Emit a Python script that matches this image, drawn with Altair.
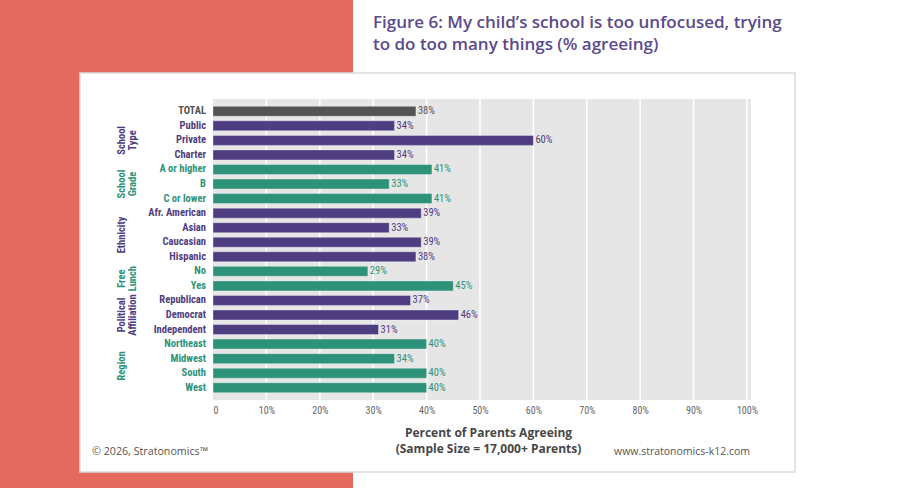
import altair as alt
import pandas as pd

# ---------------- data ----------------
categories = ["TOTAL", "Public", "Private", "Charter", "A or higher", "B", "C or lower",
              "Afr. American", "Asian", "Caucasian", "Hispanic", "No", "Yes",
              "Republican", "Democrat", "Independent", "Northeast", "Midwest", "South", "West"]
values = [38, 34, 60, 34, 41, 33, 41, 39, 33, 39, 38, 29, 45, 37, 46, 31, 40, 34, 40, 40]

group_lines = [["School", "Type"], ["School", "Grade"], ["Ethnicity"], ["Free", "Lunch"],
               ["Political", "Affiliation"], ["Region"]]
group_sizes = [3, 3, 4, 2, 3, 4]

tick_values = [0, 10, 20, 30, 40, 50, 60, 70, 80, 90, 100]

title_lines = ["Figure 6: My child\u2019s school is too unfocused, trying",
               "to do too many things (% agreeing)"]
axis_title = ["Percent of Parents Agreeing", "(Sample Size = 17,000+ Parents)"]
footer_left = "\u00a9 2026, Stratonomics\u2122"
footer_right = "www.stratonomics-k12.com"

# ---------------- styling ----------------
PURPLE = "#4f3d81"
GREEN = "#2e9279"
TOTALC = "#535353"
CORAL = "#e36a5e"
PLOTBG = "#e6e6e6"
COND = ("Roboto Condensed, Open Sans Condensed, Noto Sans Condensed, Liberation Sans Narrow, "
        "DejaVu Sans Condensed, Ubuntu Condensed, Arial Narrow, Liberation Sans, sans-serif")
SANS = "Open Sans, Lato, sans-serif"

W, H = 538, 301
group_colors = [PURPLE, GREEN, PURPLE, GREEN, PURPLE, GREEN]

colors = [TOTALC]
for size, c in zip(group_sizes, group_colors):
    colors += [c] * size

df = pd.DataFrame({
    "idx": list(range(len(categories))),
    "category": categories,
    "value": values,
    "color": colors,
    "label": [f"{v}%" for v in values],
})

rows = []
start = 1
for lines, size, c in zip(group_lines, group_sizes, group_colors):
    center = start + (size - 1) / 2
    rows.append({"center": center, "line1": lines[0],
                 "line2": lines[1] if len(lines) > 1 else "", "color": c})
    start += size
gdf = pd.DataFrame(rows)

xscale = alt.Scale(domain=[0, 100.75], nice=False, zero=True)
yscale = alt.Scale(domain=[-0.5, len(categories) - 0.5], reverse=True, nice=False, zero=False)

xaxis = alt.Axis(values=tick_values, grid=False, ticks=False, domain=False,
                 labelExpr="datum.value == 0 ? '0' : datum.value + '%'",
                 labelFont=COND, labelFontSize=10, labelColor="#666666", labelPadding=5,
                 title=axis_title, titleFont=SANS, titleFontSize=12, titleFontWeight="bold",
                 titleColor="#474747", titlePadding=12, titleX=275, titleAlign="center",
                 titleLineHeight=16, zindex=1)

one = pd.DataFrame({"a": [0]})

coral = alt.Chart(one).mark_rect(color=CORAL).encode(
    x=alt.value(-213), x2=alt.value(140), y=alt.value(-99), y2=alt.value(389))
card = alt.Chart(one).mark_rect(fill="white", stroke="#dcdcdc", strokeWidth=1.5).encode(
    x=alt.value(-133), x2=alt.value(582), y=alt.value(-26), y2=alt.value(373))
plotbg = alt.Chart(one).mark_rect(fill=PLOTBG).encode(
    x=alt.value(0), x2=alt.value(W), y=alt.value(0), y2=alt.value(H))

grid = alt.Chart(pd.DataFrame({"tick": tick_values[1:]})).mark_rule(
    color="white", strokeWidth=1.5).encode(
    x=alt.X("tick:Q", scale=xscale, axis=xaxis), y=alt.value(0), y2=alt.value(H))

bars = alt.Chart(df).mark_bar(height=10, orient="horizontal", stroke="white",
                              strokeOpacity=0.45, strokeWidth=0.8).encode(
    x=alt.X("value:Q", scale=xscale, axis=xaxis),
    x2=alt.datum(0),
    y=alt.Y("idx:Q", scale=yscale, axis=None),
    color=alt.Color("color:N", scale=None),
)

vlabels = alt.Chart(df).mark_text(align="left", baseline="middle", dx=2, font=COND,
                                  fontSize=10.5, fontWeight="normal").encode(
    x=alt.X("value:Q", scale=xscale, axis=xaxis),
    y=alt.Y("idx:Q", scale=yscale, axis=None),
    text="label:N",
    color=alt.Color("color:N", scale=None),
)

clabels = alt.Chart(df).mark_text(align="right", baseline="middle", font=COND,
                                  fontSize=10.5, fontWeight="bold").encode(
    x=alt.value(-7),
    y=alt.Y("idx:Q", scale=yscale, axis=None),
    text="category:N",
    color=alt.Color("color:N", scale=None),
)

g1 = alt.Chart(gdf).mark_text(align="center", baseline="middle", angle=270, font=COND,
                              fontSize=10.5, fontWeight="bold").encode(
    x=alt.value(-91),
    y=alt.Y("center:Q", scale=yscale, axis=None),
    text="line1:N",
    color=alt.Color("color:N", scale=None),
)
g2 = alt.Chart(gdf).mark_text(align="center", baseline="middle", angle=270, font=COND,
                              fontSize=10.5, fontWeight="bold").encode(
    x=alt.value(-80),
    y=alt.Y("center:Q", scale=yscale, axis=None),
    text="line2:N",
    color=alt.Color("color:N", scale=None),
)

title = alt.Chart(one).mark_text(align="left", baseline="alphabetic", font=SANS,
                                 fontSize=17, fontWeight=600, color="#5b4a8c",
                                 lineHeight=22).encode(
    x=alt.value(160), y=alt.value(-71), text=alt.value(title_lines))

fleft = alt.Chart(one).mark_text(align="left", baseline="middle", font=SANS,
                                 fontSize=10.7, color="#555555").encode(
    x=alt.value(-121), y=alt.value(353), text=alt.value(footer_left))
fright = alt.Chart(one).mark_text(align="right", baseline="middle", font=SANS,
                                  fontSize=10.5, color="#555555").encode(
    x=alt.value(537), y=alt.value(353), text=alt.value(footer_right))

chart = alt.layer(coral, card, plotbg, grid, bars, vlabels, clabels, g1, g2,
                  title, fleft, fright).properties(
    width=W, height=H,
    autosize=alt.AutoSizeParams(type="none"),
    padding={"left": 213, "top": 99, "right": 900 - 213 - W, "bottom": 488 - 99 - H},
).configure_view(stroke=None).configure(background="white")

chart.save("out.html", embed_options={"renderer": "svg", "actions": False})
